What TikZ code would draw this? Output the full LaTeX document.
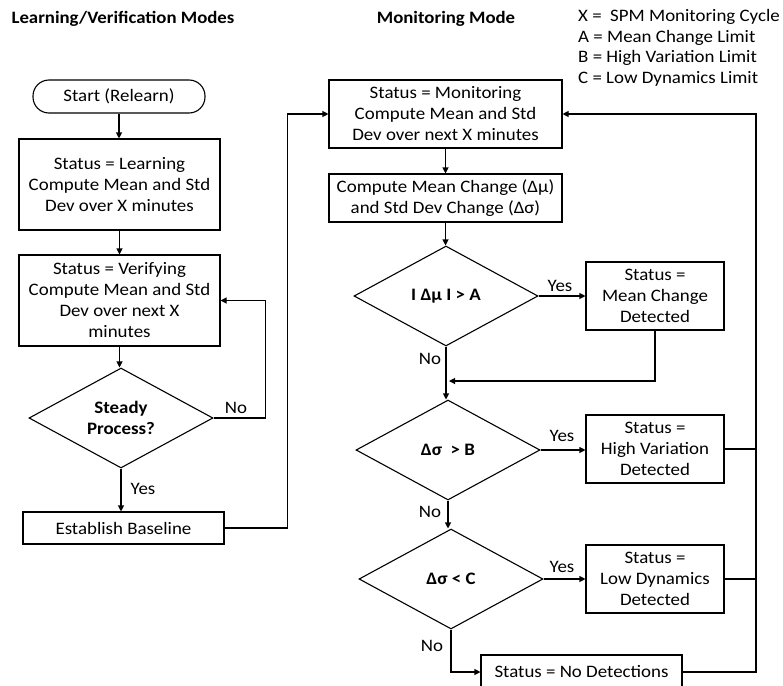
\documentclass[tikz,border=0pt]{standalone}
\usepackage{fontspec}
\setmainfont{Carlito}[FakeStretch=1.08]
\usetikzlibrary{shapes.geometric,arrows.meta}
\begin{document}
\begin{tikzpicture}[x=1pt,y=-1pt,
  txt/.style={font=\fontsize{17.5}{21}\selectfont},
  box/.style={draw,line width=1.1pt,inner sep=0pt,align=center,txt},
  dia/.style={draw,diamond,line width=1.1pt,minimum width=184pt,minimum height=100pt,inner sep=0pt},
  dtxt/.style={font=\fontsize{17.5}{21}\selectfont\bfseries,align=center},
  flow/.style={line width=1.1pt,-{Triangle[length=6pt,width=6pt]}},
  wire/.style={line width=1.1pt},
  ttl/.style={font=\fontsize{17.4}{20}\selectfont\bfseries}]
\useasboundingbox (0,0) rectangle (783,685);

% headings and legend
\node[ttl] (t1) at (123,19) {Learning/Verification Modes};
\node[ttl] (t2) at (446,19) {Monitoring Mode};
\node[txt,anchor=west,inner sep=0pt] (lx) at (578,17) {X =\ \ SPM Monitoring Cycle};
\node[txt,anchor=west,inner sep=0pt] (la) at (578,38) {A = Mean Change Limit};
\node[txt,anchor=west,inner sep=0pt] (lb) at (578,58) {B = High Variation Limit};
\node[txt,anchor=west,inner sep=0pt] (lc) at (578,79) {C = Low Dynamics Limit};

% learning / verification column
\node[box,rounded corners=16pt,minimum width=172pt,minimum height=33pt] (start) at (119,96.5) {Start (Relearn)};
\node[box,minimum width=201pt,minimum height=91pt] (learn) at (119.5,184.5) {Status = Learning\\Compute Mean and Std\\Dev over X minutes};
\node[box,minimum width=201pt,minimum height=91pt] (verify) at (119.5,300.5) {Status = Verifying\\Compute Mean and Std\\Dev over next X\\minutes};
\node[dia] (steady) at (121,418) {};
\node[dtxt] (steadyt) at (steady) {Steady\\Process?};
\node[box,minimum width=201pt,minimum height=32pt] (base) at (123.5,528) {Establish Baseline};

% monitoring column
\node[box,minimum width=233pt,minimum height=68pt] (mon) at (445.5,114) {Status = Monitoring\\Compute Mean and Std\\Dev over next X minutes};
\node[box,minimum width=233pt,minimum height=48pt] (comp) at (445.5,198) {Compute Mean Change (Δμ)\\and Std Dev Change (Δσ)};
\node[dia] (d1) at (446,296) {};
\node[dtxt] (d1t) at (d1) {I Δμ I > A};
\node[box,minimum width=138pt,minimum height=68pt] (mean) at (655,296) {Status =\\Mean Change\\Detected};
\node[dia] (d2) at (448,450) {};
\node[dtxt] (d2t) at (d2) {Δσ\ \ > B};
\node[box,minimum width=138pt,minimum height=68pt] (high) at (655,449) {Status =\\High Variation\\Detected};
\node[dia] (d3) at (451,579) {};
\node[dtxt] (d3t) at (d3) {Δσ < C};
\node[box,minimum width=138pt,minimum height=68pt] (low) at (655,579) {Status =\\Low Dynamics\\Detected};
\node[box,minimum width=201pt,minimum height=34pt] (none) at (581.5,672) {Status = No Detections};

\coordinate (join) at (449,381);
\coordinate (rtop) at (756,114);

% connectors, left column
\draw[flow] (start.south) -- (start.south |- learn.north);
\draw[flow] (learn.south) -- (learn.south |- verify.north);
\draw[flow] (verify.south) -- (verify.south |- steady.north);
\draw[flow] (steady.east) -- ++(52,0) |- (verify.east);
\draw[flow] (steady.south) -- (steady.south |- base.north);
\draw[flow] (base.east) -- ++(63,0) |- (mon.west);
\node[txt] (no0) at (236,408) {No};
\node[txt] (yes0) at (143,489) {Yes};

% connectors, right column
\draw[flow] (mon.south) -- (mon.south |- comp.north);
\draw[flow] (comp.south) -- (comp.south |- d1.north);
\draw[flow] (d1.east) -- (mean.west);
\draw[flow] (mean.south) |- (join);
\draw[flow] (d1.south) -- (d1.south |- d2.north);
\draw[flow] (d2.east) -- (d2.east -| high.west);
\draw[flow] (d2.south) -- (d2.south |- d3.north);
\draw[flow] (d3.east) -- (low.west);
\draw[flow] (d3.south) |- (none.west);
\draw[flow] (none.east) -| (rtop) -- (mon.east);
\draw[wire] (high.east) -- (high.east -| rtop);
\draw[wire] (low.east) -- (low.east -| rtop);
\node[txt] (yes1) at (560,286) {Yes};
\node[txt] (yes2) at (562,436) {Yes};
\node[txt] (yes3) at (562,567) {Yes};
\node[txt] (no1) at (430,359) {No};
\node[txt] (no2) at (430,512) {No};
\node[txt] (no3) at (432,646) {No};
\end{tikzpicture}
\end{document}
